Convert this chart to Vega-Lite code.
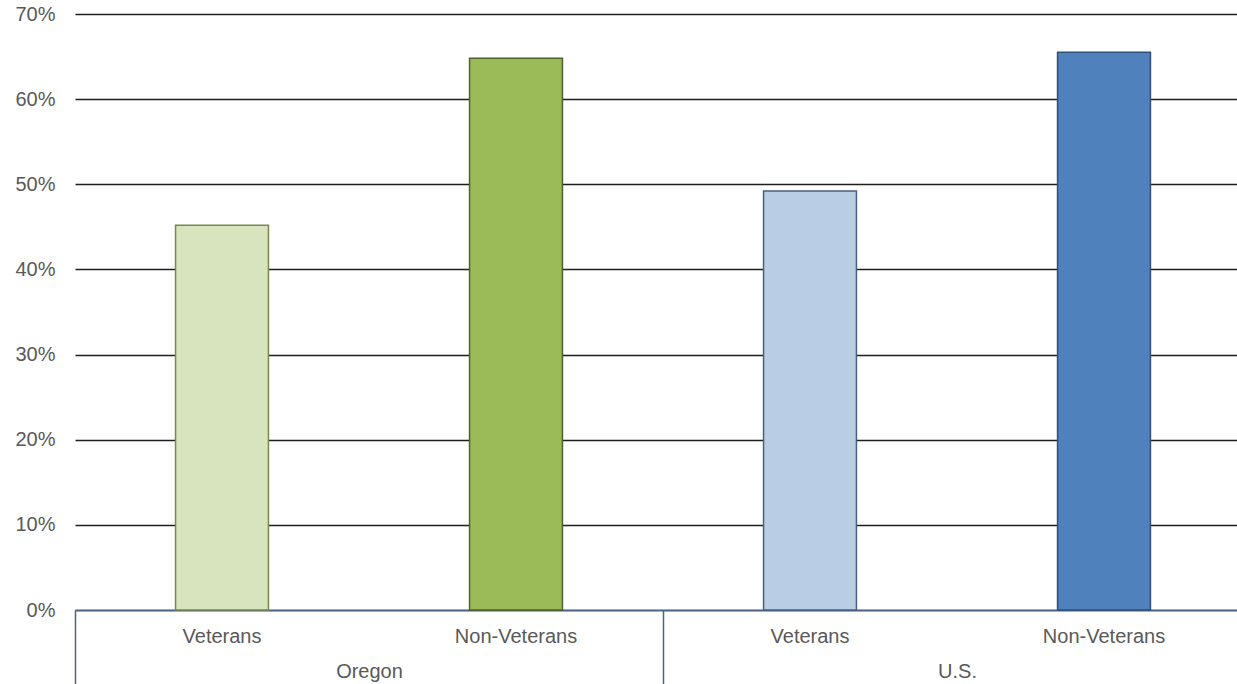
{
  "$schema": "https://vega.github.io/schema/vega-lite/v6.json",
  "autosize": "none",
  "width": 1162,
  "height": 596,
  "padding": {"left": 75, "top": 14, "right": 0, "bottom": 74},
  "background": "white",
  "config": {
    "view": {"stroke": null},
    "font": "Liberation Sans",
    "axis": {"labelFont": "Liberation Sans", "labelFontSize": 20, "labelColor": "#595959"}
  },
  "data": {
    "values": [
      {"category": "Oregon|Veterans", "region": "Oregon", "share": 0.452},
      {"category": "Oregon|Non-Veterans", "region": "Oregon", "share": 0.648},
      {"category": "U.S.|Veterans", "region": "U.S.", "share": 0.492},
      {"category": "U.S.|Non-Veterans", "region": "U.S.", "share": 0.655}
    ]
  },
  "layer": [
    {
      "mark": {"type": "bar", "width": {"band": 0.316}, "strokeWidth": 1.5},
      "encoding": {
        "x": {
          "field": "category",
          "type": "nominal",
          "sort": null,
          "scale": {"range": [0, 1176], "paddingInner": 0, "paddingOuter": 0},
          "axis": {
            "orient": "bottom",
            "title": null,
            "labelAngle": 0,
            "labelExpr": "split(datum.value, '|')[1]",
            "ticks": false,
            "labelPadding": 16,
            "domainColor": "#4a6386",
            "domainWidth": 1.5,
            "grid": false
          }
        },
        "y": {
          "field": "share",
          "type": "quantitative",
          "scale": {"domain": [0, 0.7], "nice": false},
          "axis": {
            "title": null,
            "format": ".0%",
            "values": [0, 0.1, 0.2, 0.3, 0.4, 0.5, 0.6, 0.7],
            "domain": false,
            "ticks": false,
            "labelPadding": 20,
            "gridColor": "#1e1e1e",
            "gridWidth": 1.4,
            "gridOpacity": 1
          }
        },
        "fill": {
          "field": "category",
          "type": "nominal",
          "legend": null,
          "scale": {
            "domain": ["Oregon|Veterans", "Oregon|Non-Veterans", "U.S.|Veterans", "U.S.|Non-Veterans"],
            "range": ["#d7e4bd", "#9bbb59", "#b9cde5", "#4f81bd"]
          }
        },
        "stroke": {
          "field": "category",
          "type": "nominal",
          "legend": null,
          "scale": {
            "domain": ["Oregon|Veterans", "Oregon|Non-Veterans", "U.S.|Veterans", "U.S.|Non-Veterans"],
            "range": ["#77874f", "#4f6228", "#4a5f80", "#2f4f78"]
          }
        }
      }
    },
    {
      "mark": {"type": "tick", "opacity": 0},
      "encoding": {
        "x": {
          "field": "region",
          "type": "nominal",
          "scale": {"range": [0, 1176], "paddingInner": 0, "paddingOuter": 0},
          "axis": {
            "orient": "bottom",
            "title": null,
            "labelAngle": 0,
            "domain": false,
            "bandPosition": 0,
            "tickBand": "extent",
            "ticks": true,
            "tickSize": 80,
            "tickColor": "#4a6386",
            "tickWidth": 1.5,
            "labelPadding": -29,
            "labelBaseline": "top",
            "grid": false
          }
        }
      }
    }
  ],
  "resolve": {"scale": {"x": "independent", "fill": "independent", "stroke": "independent"}, "axis": {"x": "independent"}}
}
